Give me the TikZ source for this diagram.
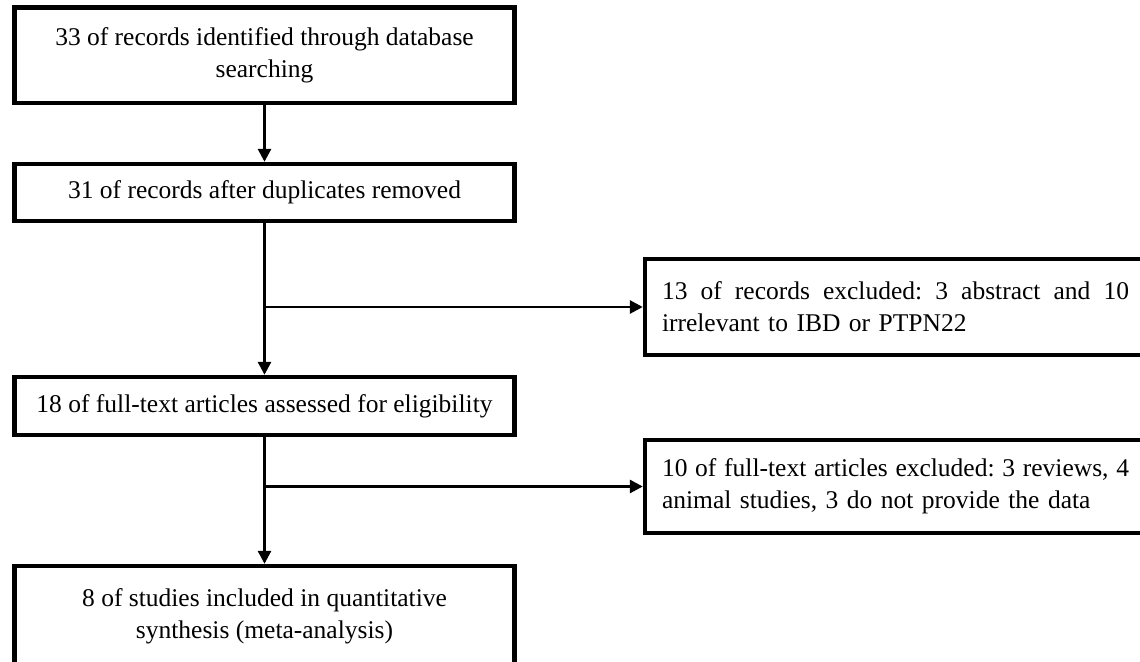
\documentclass[tikz,border=0pt]{standalone}
\usepackage{fontspec}
\setmainfont{Liberation Serif}
\usetikzlibrary{arrows.meta}
\frenchspacing
\newcommand{\fullline}[1]{\hbox to 467pt{\frenchspacing\spaceskip=0.15em plus 1em\relax\xspaceskip=0.15em plus 1em\relax #1}}
\begin{document}
\begin{tikzpicture}[x=1pt,y=-1pt,
  box/.style={draw=black, line width=4.4pt, rectangle, inner sep=0pt,
    font=\fontsize{25.5}{32}\selectfont\frenchspacing, text=black},
  mainbox/.style={box, minimum width=500pt, align=center},
  sidebox/.style={box, minimum width=501pt, text width=467pt, align=left},
  arr/.style={line width=2.8pt, -{Triangle[length=13pt,width=13pt]}}]
\useasboundingbox (0,0) rectangle (1140,661);
\clip (0,0) rectangle (1140,661);
\node[mainbox, minimum height=95.5pt] (b1) at (264.5,55.25)
  {33 of records identified through database\\searching};
\node[mainbox, minimum height=57pt] (b2) at (264.5,192.5)
  {31 of records after duplicates removed};
\node[sidebox, minimum height=96pt] (b3) at (895.5,307)
  {\fullline{13 of records excluded: 3 abstract and 10}\\irrelevant to IBD or PTPN22};
\node[mainbox, minimum height=58pt] (b4) at (264.5,406)
  {18 of full-text articles assessed for eligibility};
\node[sidebox, minimum height=93pt] (b5) at (895.5,486.5)
  {\fullline{10 of full-text articles excluded: 3 reviews, 4}\\animal studies, 3 do not provide the data};
\node[mainbox, minimum height=101pt] (b6) at (264.5,616.5)
  {8 of studies included in quantitative\\synthesis (meta-analysis)};
\coordinate (j1) at (b2.south |- b3.west);
\coordinate (j2) at (b4.south |- b5.west);
\draw[arr] (b1.south) -- (b2.north);
\draw[arr] (b2.south) -- (b4.north);
\draw[arr] (j1) -- (b3.west);
\draw[arr] (b4.south) -- (b6.north);
\draw[arr] (j2) -- (b5.west);
\end{tikzpicture}
\end{document}
